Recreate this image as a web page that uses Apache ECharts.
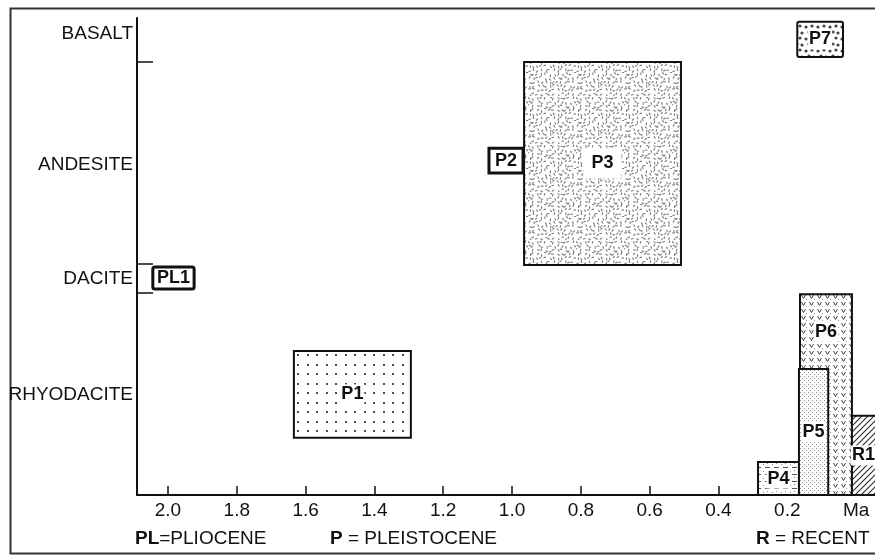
<!DOCTYPE html>
<html><head><meta charset="utf-8">
<script src="https://cdn.jsdelivr.net/npm/echarts@6/dist/echarts.min.js"></script>
<style>html,body{margin:0;padding:0;background:#fff}#c{width:875px;height:557px}</style>
</head><body><div id="c"></div>
<script>
// ---- data ----
const unitNames = ['PL1', 'P1', 'P2', 'P3', 'P4', 'P6', 'P5', 'R1', 'P7'];
const ageOld    = [2.044, 1.634, 1.067, 0.965, 0.285, 0.163, 0.166, 0.012, 0.171];
const ageYoung  = [1.924, 1.294, 0.968, 0.509, 0.166, 0.012, 0.081, -0.08, 0.038];
const compLow   = [43.2, 12.0, 67.5, 48.2, 0, 0, 0, 0, 91.8];
const compHigh  = [47.8, 30.2, 72.7, 90.8, 6.9, 42.1, 26.4, 16.6, 99.2];
const rockNames = ['RHYODACITE', 'DACITE', 'ANDESITE', 'BASALT'];
const rockPositions = [21.0, 45.3, 69.2, 96.6];
const rockTickValues = [90.8, 48.4, 42.3];
const ageTickValues = [2.0, 1.8, 1.6, 1.4, 1.2, 1.0, 0.8, 0.6, 0.4, 0.2];
const ageLabelValues = [2.0, 1.8, 1.6, 1.4, 1.2, 1.0, 0.8, 0.6, 0.4, 0.2, 0];
const ageUnitLabel = 'Ma';
const epochNotes = [['PL', '=PLIOCENE'], ['P', ' = PLEISTOCENE'], ['R', ' = RECENT']];

// ---- patterns (styles) ----
function tile(w, h, draw) {
  const c = document.createElement('canvas');
  c.width = w; c.height = h;
  const g = c.getContext('2d');
  g.fillStyle = '#fff'; g.fillRect(0, 0, w, h);
  draw(g);
  return { image: c, repeat: 'repeat' };
}
let seed = 11;
function rnd() { seed = (seed * 16807) % 2147483647; return (seed - 1) / 2147483646; }
const patterns = {
  grid: tile(19, 19, g => { g.fillStyle = '#4a4a4a'; [[3,3],[12,3],[3,12],[12,12]].forEach(p => g.fillRect(p[0], p[1], 2, 2)); }),
  stipple: tile(48, 48, g => {
    g.strokeStyle = '#7a7a7a'; g.lineWidth = 1.1; g.lineCap = 'round';
    for (let cy = 0; cy < 48; cy += 4) {
      for (let cx = 0; cx < 48; cx += 4) {
        const x = cx + 0.5 + rnd() * 2.5, y = cy + 0.5 + rnd() * 2.5, a = rnd() * Math.PI;
        g.beginPath(); g.moveTo(x, y); g.lineTo(x + 1.8 * Math.cos(a), y + 1.8 * Math.sin(a)); g.stroke();
      }
    }
  }),
  fine: tile(4, 4, g => { g.fillStyle = '#8a8a8a'; g.fillRect(0, 0, 1, 1); g.fillRect(2, 2, 1, 1); }),
  vee: tile(8, 7, g => {
    g.strokeStyle = '#444'; g.lineWidth = 1;
    g.beginPath(); g.moveTo(1.5, 1); g.lineTo(3.5, 4.5); g.lineTo(5.5, 1); g.stroke();
    g.fillStyle = '#999'; g.fillRect(6, 5, 1, 1);
  }),
  dash: tile(9, 7, g => {
    g.strokeStyle = '#555'; g.lineWidth = 1;
    g.beginPath(); g.moveTo(0, 5.5); g.lineTo(5, 5.5); g.stroke();
    g.fillStyle = '#888'; g.fillRect(2, 1, 1, 1); g.fillRect(7, 2, 1, 1);
  }),
  hatch: tile(6, 6, g => {
    g.strokeStyle = '#333'; g.lineWidth = 1.2;
    g.beginPath(); g.moveTo(0, 6); g.lineTo(6, 0); g.moveTo(-1, 1); g.lineTo(1, -1); g.moveTo(5, 7); g.lineTo(7, 5); g.stroke();
  }),
  blobs: tile(12, 12, g => {
    g.fillStyle = '#444';
    [[2,3],[8,2],[5,8],[10,9]].forEach(p => { g.beginPath(); g.arc(p[0], p[1], 1.6, 0, Math.PI * 2); g.fill(); });
  }),
  plain: '#fff'
};
const unitStyle = {
  PL1: { fill: 'plain', lw: 3 }, P1: { fill: 'grid', lw: 2 }, P2: { fill: 'plain', lw: 3 },
  P3: { fill: 'stipple', lw: 2 }, P4: { fill: 'dash', lw: 2 }, P6: { fill: 'vee', lw: 2 },
  P5: { fill: 'fine', lw: 2 }, R1: { fill: 'hatch', lw: 2 }, P7: { fill: 'blobs', lw: 2 }
};

const boxData = unitNames.map((n, i) => [ageOld[i], ageYoung[i], compLow[i], compHigh[i], n]);

const chart = echarts.init(document.getElementById('c'));
const FONT = 'Liberation Sans, Arial, sans-serif';

chart.setOption({
  animation: false,
  backgroundColor: '#fff',
  grid: { left: 137, right: 0, top: 18, bottom: 62 },
  xAxis: {
    type: 'value', inverse: true, min: -0.055, max: 2.09,
    splitLine: { show: false },
    axisLine: { onZero: false, lineStyle: { color: '#111', width: 2 } },
    axisTick: { inside: true, length: 9, customValues: ageTickValues, lineStyle: { color: '#111', width: 1.5 } },
    axisLabel: {
      customValues: ageLabelValues, margin: 6, color: '#111', fontSize: 19, fontFamily: FONT,
      formatter: v => Math.abs(v) < 1e-9 ? ageUnitLabel : v.toFixed(1)
    }
  },
  yAxis: {
    type: 'value', min: 0, max: 100,
    splitLine: { show: false },
    axisLine: { onZero: false, lineStyle: { color: '#111', width: 2 } },
    axisTick: { inside: true, length: 16, customValues: rockTickValues, lineStyle: { color: '#111', width: 1.5 } },
    axisLabel: {
      customValues: rockPositions, margin: 4, color: '#111', fontSize: 19, fontFamily: FONT,
      formatter: v => { const k = rockPositions.findIndex(p => Math.abs(p - v) < 1e-6); return k >= 0 ? rockNames[k] : ''; }
    }
  },
  graphic: [
    { type: 'rect', left: 8, top: 6, shape: { width: 900, height: 545 }, style: { fill: 'none', stroke: '#333', lineWidth: 2 }, silent: true },
    ...epochNotes.map((e, k) => ({
      type: 'text', left: [135, 330, 756][k], top: 529,
      style: {
        text: '{b|' + e[0] + '}{n|' + e[1] + '}',
        rich: { b: { font: 'bold 19px ' + FONT, fill: '#111' }, n: { font: '19px ' + FONT, fill: '#111' } }
      }
    }))
  ],
  series: [{
    type: 'custom',
    clip: true,
    data: boxData,
    encode: { x: [0, 1], y: [2, 3] },
    renderItem: function (params, api) {
      const i = params.dataIndex;
      const name = unitNames[i];
      const a = api.coord([api.value(0), api.value(3)]);
      const b = api.coord([api.value(1), api.value(2)]);
      const cs = params.coordSys;
      const x0 = Math.min(a[0], b[0]), x1 = Math.max(a[0], b[0]);
      const y0 = Math.min(a[1], b[1]), y1 = Math.max(a[1], b[1]);
      // label anchor: centre of visible part not covered by later boxes
      let bottomVal = api.value(2);
      for (let j = i + 1; j < unitNames.length; j++) {
        const overlapX = Math.min(ageOld[i], ageOld[j]) > Math.max(ageYoung[i], ageYoung[j]);
        if (overlapX && compHigh[j] < compHigh[i] && compHigh[j] > bottomVal && compLow[j] <= compLow[i]) bottomVal = compHigh[j];
      }
      const ly = (api.coord([0, api.value(3)])[1] + api.coord([0, bottomVal])[1]) / 2;
      const vx1 = Math.min(x1, cs.x + cs.width);
      const lx = (x0 + vx1) / 2;
      const st = unitStyle[name];
      return {
        type: 'group',
        children: [
          { type: 'rect', shape: { x: x0, y: y0, width: x1 - x0, height: y1 - y0, r: name === 'P7' || name === 'PL1' ? 2 : 0 },
            style: { fill: patterns[st.fill], stroke: '#111', lineWidth: st.lw } },
          { type: 'text', z2: 10, style: { text: name, x: lx, y: ly, align: 'center', verticalAlign: 'middle',
            font: 'bold 18px ' + FONT, fill: '#111',
            backgroundColor: st.fill === 'plain' ? 'transparent' : '#fff',
            padding: name === 'P3' ? [6, 8] : [1, 1] } }
        ]
      };
    }
  }]
});
</script>
</body></html>
